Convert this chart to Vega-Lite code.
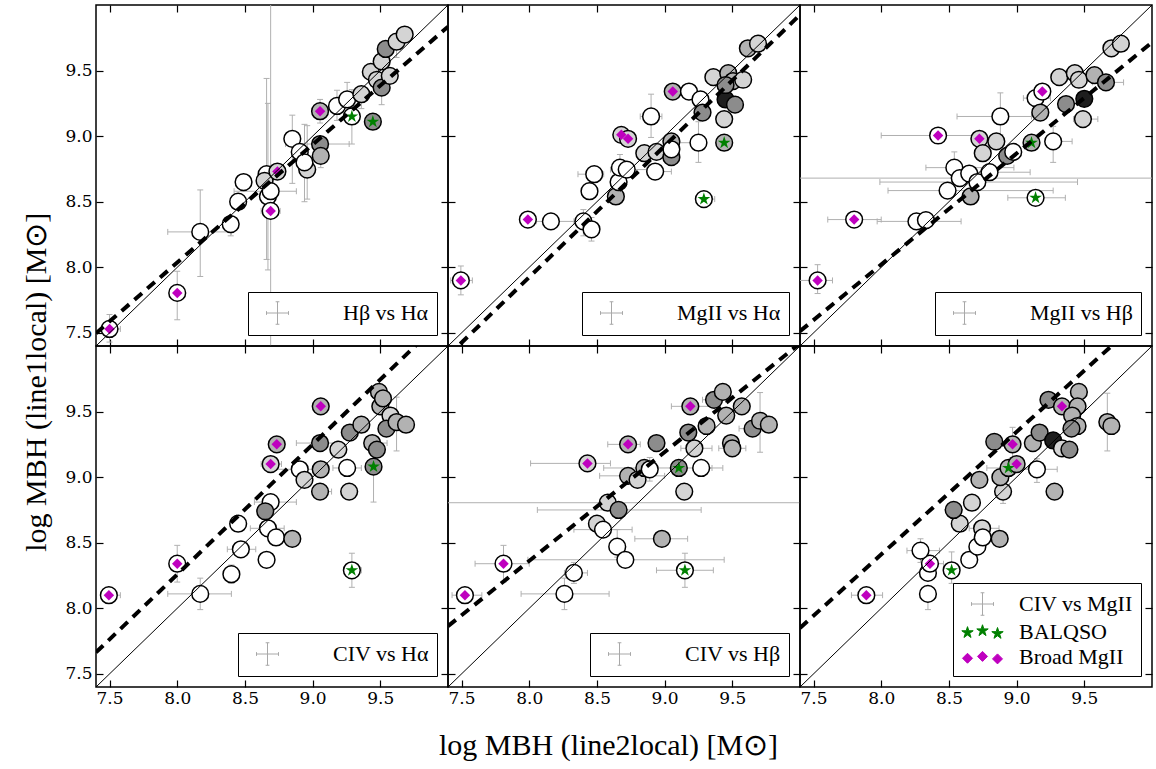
{
"$schema":"https://vega.github.io/schema/vega-lite/v6.json",
"background":"white",
"padding":{"left":22,"top":3,"right":3,"bottom":5},
"title":{"text":"log MBH (line1local) [M⊙]","orient":"left","anchor":"middle","font":"Liberation Serif","fontSize":30,"fontWeight":"normal","color":"black","offset":12},
"datasets":{
"one":[{"x":7.4,"y":7.4},{"x":10,"y":10}],
"fit":[{"p":1,"x":7.4,"y":7.497},{"p":1,"x":10,"y":9.835},{"p":2,"x":7.4,"y":7.325},{"p":2,"x":10,"y":9.925},{"p":3,"x":7.4,"y":7.513},{"p":3,"x":10,"y":9.715},{"p":4,"x":7.4,"y":7.664},{"p":4,"x":10,"y":10.24},{"p":5,"x":7.4,"y":7.864},{"p":5,"x":10,"y":10.02},{"p":6,"x":7.4,"y":7.85},{"p":6,"x":10,"y":10.28}],
"leg":[{"p":1,"lab":"Hβ vs Hα"},{"p":2,"lab":"MgII vs Hα"},{"p":3,"lab":"MgII vs Hβ"},{"p":4,"lab":"CIV vs Hα"},{"p":5,"lab":"CIV vs Hβ"},{"p":6,"lab":"CIV vs MgII"},{"p":6,"lab":"BALQSO"},{"p":6,"lab":"Broad MgII"}],
"pts":[
{"p":1,"x":7.50,"y":7.53,"s":"w","m":"d","xl":7.45,"xh":7.58,"yl":7.43,"yh":7.64},
{"p":1,"x":8.00,"y":7.805,"s":"w","m":"d","yl":7.60,"yh":7.97},
{"p":1,"x":8.17,"y":8.27,"s":"w","xl":7.93,"xh":8.40,"yl":7.93,"yh":8.59},
{"p":1,"x":8.395,"y":8.33,"s":"w","yl":8.24,"yh":8.36},
{"p":1,"x":8.45,"y":8.50,"s":"w"},
{"p":1,"x":8.49,"y":8.65,"s":"w"},
{"p":1,"x":8.66,"y":8.71,"s":"w","yl":8.06,"yh":9.44},
{"p":1,"x":8.645,"y":8.66,"s":"l"},
{"p":1,"x":8.67,"y":8.54,"s":"w","yl":7.98,"yh":9.25},
{"p":1,"x":8.69,"y":8.58,"s":"w","xl":8.42,"xh":8.88,"yl":7.0,"yh":11.0},
{"p":1,"x":8.69,"y":8.43,"s":"w","m":"d","xl":8.62,"xh":8.76},
{"p":1,"x":8.74,"y":8.73,"s":"l","m":"d"},
{"p":1,"x":8.85,"y":8.98,"s":"w","yl":8.64,"yh":9.16},
{"p":1,"x":8.905,"y":8.88,"s":"w"},
{"p":1,"x":8.96,"y":8.745,"s":"l","yl":8.52,"yh":9.08},
{"p":1,"x":8.94,"y":8.80,"s":"w","yl":8.50,"yh":9.09},
{"p":1,"x":9.055,"y":8.94,"s":"d","xl":8.80,"xh":9.27},
{"p":1,"x":9.06,"y":8.85,"s":"g","yl":8.76,"yh":8.95},
{"p":1,"x":9.055,"y":9.19,"s":"g","m":"d","yl":9.10,"yh":9.28},
{"p":1,"x":9.18,"y":9.23,"s":"w","yl":9.12,"yh":9.35},
{"p":1,"x":9.255,"y":9.28,"s":"w","yl":9.15,"yh":9.41},
{"p":1,"x":9.29,"y":9.15,"s":"w","m":"s","yl":8.94,"yh":9.355},
{"p":1,"x":9.445,"y":9.11,"s":"d","m":"s"},
{"p":1,"x":9.36,"y":9.32,"s":"l","yl":9.21,"yh":9.37},
{"p":1,"x":9.43,"y":9.49,"s":"l"},
{"p":1,"x":9.475,"y":9.43,"s":"l"},
{"p":1,"x":9.51,"y":9.37,"s":"d","yl":9.24,"yh":9.47},
{"p":1,"x":9.57,"y":9.46,"s":"l"},
{"p":1,"x":9.51,"y":9.57,"s":"l"},
{"p":1,"x":9.54,"y":9.665,"s":"d"},
{"p":1,"x":9.62,"y":9.72,"s":"l","yl":9.60,"yh":9.78},
{"p":1,"x":9.68,"y":9.775,"s":"l"},
{"p":2,"x":7.495,"y":7.90,"s":"w","m":"d","xl":7.42,"xh":7.58,"yl":7.79,"yh":8.01},
{"p":2,"x":7.99,"y":8.364,"s":"w","m":"d"},
{"p":2,"x":8.16,"y":8.35,"s":"w","xl":8.05,"xh":8.40},
{"p":2,"x":8.40,"y":8.35,"s":"w","xl":8.33,"xh":8.45,"yl":8.24,"yh":8.44},
{"p":2,"x":8.46,"y":8.29,"s":"w","yl":8.20,"yh":8.38},
{"p":2,"x":8.445,"y":8.58,"s":"w"},
{"p":2,"x":8.64,"y":8.54,"s":"g"},
{"p":2,"x":8.48,"y":8.71,"s":"w","xl":8.36,"xh":8.55},
{"p":2,"x":8.66,"y":8.65,"s":"w"},
{"p":2,"x":8.67,"y":8.76,"s":"w","yl":8.70,"yh":8.86},
{"p":2,"x":8.72,"y":8.745,"s":"w","xl":8.60,"xh":8.87},
{"p":2,"x":8.68,"y":9.01,"s":"l","m":"d"},
{"p":2,"x":8.73,"y":8.98,"s":"l","m":"d"},
{"p":2,"x":8.90,"y":9.15,"s":"w","xl":8.82,"xh":8.98,"yl":8.99,"yh":9.32},
{"p":2,"x":8.85,"y":8.87,"s":"l"},
{"p":2,"x":8.94,"y":8.88,"s":"l"},
{"p":2,"x":8.93,"y":8.73,"s":"w","xl":8.88,"xh":9.05},
{"p":2,"x":9.05,"y":8.84,"s":"d"},
{"p":2,"x":9.05,"y":8.96,"s":"g"},
{"p":2,"x":9.05,"y":8.90,"s":"w"},
{"p":2,"x":9.25,"y":8.95,"s":"w","xl":9.03,"xh":9.26,"yl":8.80,"yh":9.11},
{"p":2,"x":9.44,"y":8.95,"s":"g","m":"s"},
{"p":2,"x":9.29,"y":8.52,"s":"w","m":"s","xl":9.24,"xh":9.37},
{"p":2,"x":9.06,"y":9.34,"s":"g","m":"d"},
{"p":2,"x":9.18,"y":9.34,"s":"w"},
{"p":2,"x":9.265,"y":9.28,"s":"w"},
{"p":2,"x":9.28,"y":9.18,"s":"d"},
{"p":2,"x":9.44,"y":9.13,"s":"l"},
{"p":2,"x":9.45,"y":9.28,"s":"k"},
{"p":2,"x":9.52,"y":9.24,"s":"d"},
{"p":2,"x":9.36,"y":9.45,"s":"l"},
{"p":2,"x":9.47,"y":9.48,"s":"g"},
{"p":2,"x":9.505,"y":9.42,"s":"g"},
{"p":2,"x":9.58,"y":9.43,"s":"l"},
{"p":2,"x":9.45,"y":9.39,"s":"d"},
{"p":2,"x":9.615,"y":9.67,"s":"g"},
{"p":2,"x":9.69,"y":9.705,"s":"l"},
{"p":3,"x":7.53,"y":7.90,"s":"w","m":"d","xl":7.39,"xh":7.64,"yl":7.80,"yh":8.02},
{"p":3,"x":7.80,"y":8.364,"s":"w","m":"d","xl":7.605,"xh":8.0},
{"p":3,"x":8.26,"y":8.35,"s":"w","xl":7.97,"xh":8.59},
{"p":3,"x":8.33,"y":8.36,"s":"w"},
{"p":3,"x":8.49,"y":8.585,"s":"w","xl":8.05,"xh":9.27},
{"p":3,"x":8.66,"y":8.54,"s":"g"},
{"p":3,"x":8.54,"y":8.76,"s":"w","xl":8.33,"xh":8.98,"yl":8.66,"yh":8.88},
{"p":3,"x":8.58,"y":8.68,"s":"w","xl":6.5,"xh":11},
{"p":3,"x":8.65,"y":8.715,"s":"w"},
{"p":3,"x":8.71,"y":8.65,"s":"w","xl":7.99,"xh":9.45},
{"p":3,"x":8.80,"y":8.725,"s":"w","xl":8.55,"xh":9.10},
{"p":3,"x":8.42,"y":9.005,"s":"w","m":"d","xl":8.00,"xh":8.72},
{"p":3,"x":8.725,"y":8.98,"s":"l","m":"d"},
{"p":3,"x":8.75,"y":8.87,"s":"l"},
{"p":3,"x":8.85,"y":8.96,"s":"l"},
{"p":3,"x":8.88,"y":9.15,"s":"w","xl":8.56,"xh":9.11,"yl":9.01,"yh":9.33},
{"p":3,"x":8.93,"y":8.85,"s":"d"},
{"p":3,"x":8.975,"y":8.88,"s":"w"},
{"p":3,"x":9.11,"y":8.95,"s":"g","m":"s"},
{"p":3,"x":9.27,"y":8.96,"s":"w","xl":9.22,"xh":9.41,"yl":8.80,"yh":9.075},
{"p":3,"x":9.14,"y":8.53,"s":"w","m":"s","xl":8.935,"xh":9.36},
{"p":3,"x":9.14,"y":9.29,"s":"w","xl":9.05,"xh":9.25},
{"p":3,"x":9.19,"y":9.34,"s":"w","m":"d"},
{"p":3,"x":9.175,"y":9.18,"s":"g"},
{"p":3,"x":9.365,"y":9.245,"s":"d"},
{"p":3,"x":9.50,"y":9.285,"s":"k"},
{"p":3,"x":9.49,"y":9.13,"s":"l","xl":9.42,"xh":9.60},
{"p":3,"x":9.315,"y":9.45,"s":"l"},
{"p":3,"x":9.43,"y":9.48,"s":"l"},
{"p":3,"x":9.46,"y":9.43,"s":"l"},
{"p":3,"x":9.575,"y":9.465,"s":"g"},
{"p":3,"x":9.66,"y":9.41,"s":"d","xl":9.56,"xh":9.79},
{"p":3,"x":9.70,"y":9.67,"s":"l"},
{"p":3,"x":9.77,"y":9.705,"s":"l"},
{"p":4,"x":7.495,"y":8.10,"s":"w","m":"d","xl":7.45,"xh":7.58},
{"p":4,"x":8.0,"y":8.34,"s":"w","m":"d","yl":8.20,"yh":8.48},
{"p":4,"x":8.17,"y":8.11,"s":"w","xl":7.93,"xh":8.40,"yl":7.99,"yh":8.23},
{"p":4,"x":8.40,"y":8.26,"s":"w","yl":8.19,"yh":8.33},
{"p":4,"x":8.47,"y":8.45,"s":"w","xl":8.37,"xh":8.58},
{"p":4,"x":8.45,"y":8.645,"s":"w"},
{"p":4,"x":8.66,"y":8.37,"s":"w"},
{"p":4,"x":8.67,"y":8.61,"s":"w","xl":8.54,"xh":8.79},
{"p":4,"x":8.73,"y":8.54,"s":"w"},
{"p":4,"x":8.69,"y":8.81,"s":"w","xl":8.57,"xh":8.88},
{"p":4,"x":8.65,"y":8.74,"s":"d"},
{"p":4,"x":8.85,"y":8.53,"s":"g"},
{"p":4,"x":8.69,"y":9.10,"s":"l","m":"d","xl":8.62,"xh":8.77},
{"p":4,"x":8.735,"y":9.25,"s":"g","m":"d"},
{"p":4,"x":9.06,"y":9.54,"s":"g","m":"d"},
{"p":4,"x":8.905,"y":9.06,"s":"w","xl":8.72,"xh":9.00},
{"p":4,"x":8.94,"y":8.98,"s":"l"},
{"p":4,"x":9.055,"y":8.89,"s":"g","xl":9.0,"xh":9.14},
{"p":4,"x":9.06,"y":9.06,"s":"g"},
{"p":4,"x":9.055,"y":9.26,"s":"d","xl":8.88,"xh":9.18},
{"p":4,"x":9.19,"y":9.21,"s":"l"},
{"p":4,"x":9.255,"y":9.07,"s":"w","xl":9.15,"xh":9.36},
{"p":4,"x":9.27,"y":8.89,"s":"l"},
{"p":4,"x":9.29,"y":8.29,"s":"w","m":"s","xl":9.24,"xh":9.36,"yl":8.16,"yh":8.42},
{"p":4,"x":9.45,"y":9.08,"s":"d","m":"s","yl":8.81,"yh":9.30},
{"p":4,"x":9.275,"y":9.34,"s":"d"},
{"p":4,"x":9.36,"y":9.40,"s":"g"},
{"p":4,"x":9.44,"y":9.26,"s":"g","xl":9.40,"xh":9.55},
{"p":4,"x":9.475,"y":9.21,"s":"d"},
{"p":4,"x":9.50,"y":9.54,"s":"g"},
{"p":4,"x":9.49,"y":9.65,"s":"g"},
{"p":4,"x":9.52,"y":9.60,"s":"g"},
{"p":4,"x":9.575,"y":9.47,"s":"l"},
{"p":4,"x":9.545,"y":9.37,"s":"d"},
{"p":4,"x":9.62,"y":9.42,"s":"g","yl":9.20,"yh":9.61},
{"p":4,"x":9.69,"y":9.40,"s":"g"},
{"p":5,"x":7.525,"y":8.10,"s":"w","m":"d","xl":7.43,"xh":7.65},
{"p":5,"x":7.81,"y":8.34,"s":"w","m":"d","xl":7.60,"xh":8.0,"yl":8.20,"yh":8.48},
{"p":5,"x":8.26,"y":8.11,"s":"w","xl":7.94,"xh":8.59,"yl":7.99,"yh":8.23},
{"p":5,"x":8.33,"y":8.27,"s":"w","xl":8.26,"xh":8.43,"yl":8.19,"yh":8.35},
{"p":5,"x":8.65,"y":8.47,"s":"w","yl":8.39,"yh":8.60},
{"p":5,"x":8.71,"y":8.37,"s":"w","xl":7.99,"xh":9.44},
{"p":5,"x":8.50,"y":8.645,"s":"l"},
{"p":5,"x":8.545,"y":8.60,"s":"w","xl":8.33,"xh":8.76},
{"p":5,"x":8.58,"y":8.805,"s":"l","xl":6.5,"xh":11},
{"p":5,"x":8.66,"y":8.75,"s":"d","xl":8.06,"xh":9.27},
{"p":5,"x":8.98,"y":8.53,"s":"g","xl":8.78,"xh":9.17},
{"p":5,"x":8.43,"y":9.105,"s":"l","m":"d","xl":8.01,"xh":8.60},
{"p":5,"x":8.73,"y":9.25,"s":"g","m":"d","xl":8.58,"xh":8.82},
{"p":5,"x":8.94,"y":9.26,"s":"d"},
{"p":5,"x":8.73,"y":9.01,"s":"g","xl":8.52,"xh":9.00},
{"p":5,"x":8.80,"y":8.98,"s":"l"},
{"p":5,"x":8.85,"y":9.07,"s":"g","xl":8.55,"xh":9.35},
{"p":5,"x":8.89,"y":9.06,"s":"w","yl":8.97,"yh":9.15},
{"p":5,"x":9.105,"y":9.07,"s":"d","m":"s"},
{"p":5,"x":9.145,"y":8.89,"s":"l"},
{"p":5,"x":9.15,"y":8.29,"s":"w","m":"s","xl":8.94,"xh":9.36,"yl":8.16,"yh":8.42},
{"p":5,"x":9.27,"y":9.07,"s":"w","xl":9.21,"xh":9.43},
{"p":5,"x":9.22,"y":9.22,"s":"l","xl":9.12,"xh":9.35},
{"p":5,"x":9.175,"y":9.34,"s":"d"},
{"p":5,"x":9.19,"y":9.54,"s":"g","m":"d","xl":9.05,"xh":9.35},
{"p":5,"x":9.31,"y":9.39,"s":"g"},
{"p":5,"x":9.365,"y":9.59,"s":"d","xl":9.28,"xh":9.45},
{"p":5,"x":9.43,"y":9.65,"s":"g"},
{"p":5,"x":9.455,"y":9.47,"s":"g"},
{"p":5,"x":9.57,"y":9.54,"s":"g"},
{"p":5,"x":9.49,"y":9.26,"s":"g"},
{"p":5,"x":9.50,"y":9.22,"s":"g","xl":9.40,"xh":9.60},
{"p":5,"x":9.65,"y":9.37,"s":"d","xl":9.55,"xh":9.76},
{"p":5,"x":9.705,"y":9.43,"s":"g","yl":9.19,"yh":9.645},
{"p":5,"x":9.77,"y":9.40,"s":"g"},
{"p":6,"x":7.89,"y":8.10,"s":"w","m":"d","xl":7.78,"xh":8.01},
{"p":6,"x":8.345,"y":8.11,"s":"w","yl":7.99,"yh":8.16},
{"p":6,"x":8.345,"y":8.27,"s":"w"},
{"p":6,"x":8.36,"y":8.34,"s":"w","m":"d","xl":8.30,"xh":8.46},
{"p":6,"x":8.29,"y":8.44,"s":"w","xl":8.19,"xh":8.43,"yl":8.35,"yh":8.53},
{"p":6,"x":8.52,"y":8.29,"s":"w","m":"s","yl":8.19,"yh":8.43},
{"p":6,"x":8.65,"y":8.37,"s":"w"},
{"p":6,"x":8.71,"y":8.47,"s":"w"},
{"p":6,"x":8.745,"y":8.61,"s":"l","xl":8.65,"xh":8.87},
{"p":6,"x":8.75,"y":8.54,"s":"w"},
{"p":6,"x":8.875,"y":8.53,"s":"g"},
{"p":6,"x":8.58,"y":8.645,"s":"l"},
{"p":6,"x":8.535,"y":8.75,"s":"d"},
{"p":6,"x":8.67,"y":8.805,"s":"l"},
{"p":6,"x":8.725,"y":8.98,"s":"g"},
{"p":6,"x":8.90,"y":8.89,"s":"l","yl":8.80,"yh":8.95},
{"p":6,"x":8.88,"y":9.00,"s":"g"},
{"p":6,"x":8.94,"y":9.07,"s":"g","m":"s","xl":8.78,"xh":9.10},
{"p":6,"x":9.00,"y":9.10,"s":"g","m":"d"},
{"p":6,"x":8.97,"y":9.25,"s":"g","m":"d","yl":9.15,"yh":9.38},
{"p":6,"x":8.835,"y":9.27,"s":"d"},
{"p":6,"x":9.12,"y":9.26,"s":"g"},
{"p":6,"x":9.15,"y":9.06,"s":"w","xl":9.03,"xh":9.30,"yl":8.96,"yh":9.14},
{"p":6,"x":9.28,"y":8.89,"s":"g"},
{"p":6,"x":9.17,"y":9.34,"s":"d"},
{"p":6,"x":9.27,"y":9.28,"s":"k"},
{"p":6,"x":9.335,"y":9.22,"s":"l"},
{"p":6,"x":9.39,"y":9.21,"s":"d"},
{"p":6,"x":9.235,"y":9.59,"s":"d"},
{"p":6,"x":9.335,"y":9.54,"s":"g","m":"d"},
{"p":6,"x":9.46,"y":9.65,"s":"g"},
{"p":6,"x":9.45,"y":9.54,"s":"g"},
{"p":6,"x":9.41,"y":9.47,"s":"g"},
{"p":6,"x":9.45,"y":9.39,"s":"g"},
{"p":6,"x":9.405,"y":9.37,"s":"d"},
{"p":6,"x":9.67,"y":9.42,"s":"g","yl":9.20,"yh":9.64},
{"p":6,"x":9.70,"y":9.39,"s":"g"}
]},
"columns":3,
"spacing":0,
"bounds":"flush",
"resolve":{"scale":{"fill":"independent","stroke":"independent","shape":"independent"},"legend":{"fill":"independent","stroke":"independent","shape":"independent"}},
"concat":[
{"width":352,"height":341,"resolve":{"axis":{"x":"independent","y":"independent"}},"layer":[
{"data":{"name":"pts"},"transform":[{"filter":"datum.p==1 && isValid(datum.xl)"}],"mark":{"type":"rule","color":"#b0b0b0","strokeWidth":1,"clip":true},"encoding":{"x":{"field":"xl","type":"quantitative","scale":{"domain":[7.4,10],"nice":false,"zero":false},"axis":null},"x2":{"field":"xh"},"y":{"field":"y","type":"quantitative","scale":{"domain":[7.4,10],"nice":false,"zero":false},"axis":null}}},
{"data":{"name":"pts"},"transform":[{"filter":"datum.p==1 && isValid(datum.yl)"}],"mark":{"type":"rule","color":"#b0b0b0","strokeWidth":1,"clip":true},"encoding":{"x":{"field":"x","type":"quantitative","axis":null},"y":{"field":"yl","type":"quantitative","axis":null},"y2":{"field":"yh"}}},
{"data":{"name":"pts"},"transform":[{"filter":"datum.p==1 && isValid(datum.xl)"},{"fold":["xl","xh"],"as":["k","v"]}],"mark":{"type":"point","shape":"M0,-1V1","size":36,"filled":false,"color":"#b0b0b0","strokeWidth":1,"opacity":1,"clip":true},"encoding":{"x":{"field":"v","type":"quantitative","axis":null},"y":{"field":"y","type":"quantitative","axis":null}}},
{"data":{"name":"pts"},"transform":[{"filter":"datum.p==1 && isValid(datum.yl)"},{"fold":["yl","yh"],"as":["k","v"]}],"mark":{"type":"point","shape":"M-1,0H1","size":36,"filled":false,"color":"#b0b0b0","strokeWidth":1,"opacity":1,"clip":true},"encoding":{"x":{"field":"x","type":"quantitative","axis":null},"y":{"field":"v","type":"quantitative","axis":null}}},
{"data":{"name":"pts"},"transform":[{"filter":"datum.p==1"}],"mark":{"type":"point","shape":"circle","filled":true,"size":280,"stroke":"black","strokeWidth":1.5,"opacity":1},"encoding":{"x":{"field":"x","type":"quantitative","axis":null},"y":{"field":"y","type":"quantitative","axis":null},"color":{"field":"s","type":"nominal","scale":{"domain":["w","l","g","d","k"],"range":["#ffffff","#d4d4d4","#b2b2b2","#8c8c8c","#1e1e1e"]},"legend":null}}},
{"data":{"name":"pts"},"transform":[{"filter":"datum.p==1 && datum.m=='s'"}],"mark":{"type":"point","shape":"M0,-1L0.225,-0.309L0.951,-0.309L0.363,0.118L0.588,0.809L0,0.382L-0.588,0.809L-0.363,0.118L-0.951,-0.309L-0.225,-0.309Z","filled":true,"size":180,"color":"#008000","opacity":1},"encoding":{"x":{"field":"x","type":"quantitative","axis":null},"y":{"field":"y","type":"quantitative","axis":null}}},
{"data":{"name":"pts"},"transform":[{"filter":"datum.p==1 && datum.m=='d'"}],"mark":{"type":"point","shape":"diamond","filled":true,"size":110,"color":"#bf00bf","opacity":1},"encoding":{"x":{"field":"x","type":"quantitative","axis":null},"y":{"field":"y","type":"quantitative","axis":null}}},
{"data":{"name":"one"},"mark":{"type":"line","color":"black","strokeWidth":1,"clip":true},"encoding":{"x":{"field":"x","type":"quantitative","axis":{"orient":"bottom","values":[7.5,8,8.5,9,9.5],"format":".1f","labels":false,"title":null}},"y":{"field":"y","type":"quantitative","axis":{"orient":"left","values":[7.5,8,8.5,9,9.5],"format":".1f","labels":true,"title":null}}}},
{"data":{"name":"fit"},"transform":[{"filter":"datum.p==1"}],"mark":{"type":"line","color":"black","strokeWidth":4,"strokeDash":[10,7],"clip":true},"encoding":{"x":{"field":"x","type":"quantitative","axis":{"orient":"top","values":[7.5,8,8.5,9,9.5],"labels":false,"title":null}},"y":{"field":"y","type":"quantitative","axis":{"orient":"right","values":[7.5,8,8.5,9,9.5],"labels":false,"title":null}}}},
{"data":{"name":"leg"},"transform":[{"filter":"datum.p==1"}],"mark":{"type":"point","filled":true,"opacity":1,"strokeWidth":1},"encoding":{"x":{"field":"x","type":"quantitative","axis":null},"y":{"field":"y","type":"quantitative","axis":null},
"fill":{"field":"lab","type":"nominal","scale":{"domain":["Hβ vs Hα"],"range":["#a8a8a8"]},"legend":{"title":null,"orient":"bottom-right","offset":11,"padding":8,"labelOffset":61}},
"stroke":{"field":"lab","type":"nominal","scale":{"domain":["Hβ vs Hα"],"range":["#a8a8a8"]},"legend":{"title":null,"orient":"bottom-right","offset":11,"padding":8,"labelOffset":61}},
"shape":{"field":"lab","type":"nominal","scale":{"domain":["Hβ vs Hα"],"range":["M-0.2,0H1.56M0.68,-0.9V0.9M-0.2,-0.15V0.15M1.56,-0.15V0.15M0.53,-0.9H0.83M0.53,0.9H0.83"]},"legend":{"title":null,"orient":"bottom-right","offset":11,"padding":8,"labelOffset":61}}}}
]},
{"width":352,"height":341,"resolve":{"axis":{"x":"independent","y":"independent"}},"layer":[
{"data":{"name":"pts"},"transform":[{"filter":"datum.p==2 && isValid(datum.xl)"}],"mark":{"type":"rule","color":"#b0b0b0","strokeWidth":1,"clip":true},"encoding":{"x":{"field":"xl","type":"quantitative","scale":{"domain":[7.4,10],"nice":false,"zero":false},"axis":null},"x2":{"field":"xh"},"y":{"field":"y","type":"quantitative","scale":{"domain":[7.4,10],"nice":false,"zero":false},"axis":null}}},
{"data":{"name":"pts"},"transform":[{"filter":"datum.p==2 && isValid(datum.yl)"}],"mark":{"type":"rule","color":"#b0b0b0","strokeWidth":1,"clip":true},"encoding":{"x":{"field":"x","type":"quantitative","axis":null},"y":{"field":"yl","type":"quantitative","axis":null},"y2":{"field":"yh"}}},
{"data":{"name":"pts"},"transform":[{"filter":"datum.p==2 && isValid(datum.xl)"},{"fold":["xl","xh"],"as":["k","v"]}],"mark":{"type":"point","shape":"M0,-1V1","size":36,"filled":false,"color":"#b0b0b0","strokeWidth":1,"opacity":1,"clip":true},"encoding":{"x":{"field":"v","type":"quantitative","axis":null},"y":{"field":"y","type":"quantitative","axis":null}}},
{"data":{"name":"pts"},"transform":[{"filter":"datum.p==2 && isValid(datum.yl)"},{"fold":["yl","yh"],"as":["k","v"]}],"mark":{"type":"point","shape":"M-1,0H1","size":36,"filled":false,"color":"#b0b0b0","strokeWidth":1,"opacity":1,"clip":true},"encoding":{"x":{"field":"x","type":"quantitative","axis":null},"y":{"field":"v","type":"quantitative","axis":null}}},
{"data":{"name":"pts"},"transform":[{"filter":"datum.p==2"}],"mark":{"type":"point","shape":"circle","filled":true,"size":280,"stroke":"black","strokeWidth":1.5,"opacity":1},"encoding":{"x":{"field":"x","type":"quantitative","axis":null},"y":{"field":"y","type":"quantitative","axis":null},"color":{"field":"s","type":"nominal","scale":{"domain":["w","l","g","d","k"],"range":["#ffffff","#d4d4d4","#b2b2b2","#8c8c8c","#1e1e1e"]},"legend":null}}},
{"data":{"name":"pts"},"transform":[{"filter":"datum.p==2 && datum.m=='s'"}],"mark":{"type":"point","shape":"M0,-1L0.225,-0.309L0.951,-0.309L0.363,0.118L0.588,0.809L0,0.382L-0.588,0.809L-0.363,0.118L-0.951,-0.309L-0.225,-0.309Z","filled":true,"size":180,"color":"#008000","opacity":1},"encoding":{"x":{"field":"x","type":"quantitative","axis":null},"y":{"field":"y","type":"quantitative","axis":null}}},
{"data":{"name":"pts"},"transform":[{"filter":"datum.p==2 && datum.m=='d'"}],"mark":{"type":"point","shape":"diamond","filled":true,"size":110,"color":"#bf00bf","opacity":1},"encoding":{"x":{"field":"x","type":"quantitative","axis":null},"y":{"field":"y","type":"quantitative","axis":null}}},
{"data":{"name":"one"},"mark":{"type":"line","color":"black","strokeWidth":1,"clip":true},"encoding":{"x":{"field":"x","type":"quantitative","axis":{"orient":"bottom","values":[7.5,8,8.5,9,9.5],"format":".1f","labels":false,"title":null}},"y":{"field":"y","type":"quantitative","axis":{"orient":"left","values":[7.5,8,8.5,9,9.5],"format":".1f","labels":false,"title":null}}}},
{"data":{"name":"fit"},"transform":[{"filter":"datum.p==2"}],"mark":{"type":"line","color":"black","strokeWidth":4,"strokeDash":[10,7],"clip":true},"encoding":{"x":{"field":"x","type":"quantitative","axis":{"orient":"top","values":[7.5,8,8.5,9,9.5],"labels":false,"title":null}},"y":{"field":"y","type":"quantitative","axis":{"orient":"right","values":[7.5,8,8.5,9,9.5],"labels":false,"title":null}}}},
{"data":{"name":"leg"},"transform":[{"filter":"datum.p==2"}],"mark":{"type":"point","filled":true,"opacity":1,"strokeWidth":1},"encoding":{"x":{"field":"x","type":"quantitative","axis":null},"y":{"field":"y","type":"quantitative","axis":null},
"fill":{"field":"lab","type":"nominal","scale":{"domain":["MgII vs Hα"],"range":["#a8a8a8"]},"legend":{"title":null,"orient":"bottom-right","offset":11,"padding":8,"labelOffset":61}},
"stroke":{"field":"lab","type":"nominal","scale":{"domain":["MgII vs Hα"],"range":["#a8a8a8"]},"legend":{"title":null,"orient":"bottom-right","offset":11,"padding":8,"labelOffset":61}},
"shape":{"field":"lab","type":"nominal","scale":{"domain":["MgII vs Hα"],"range":["M-0.2,0H1.56M0.68,-0.9V0.9M-0.2,-0.15V0.15M1.56,-0.15V0.15M0.53,-0.9H0.83M0.53,0.9H0.83"]},"legend":{"title":null,"orient":"bottom-right","offset":11,"padding":8,"labelOffset":61}}}}
]},
{"width":352,"height":341,"resolve":{"axis":{"x":"independent","y":"independent"}},"layer":[
{"data":{"name":"pts"},"transform":[{"filter":"datum.p==3 && isValid(datum.xl)"}],"mark":{"type":"rule","color":"#b0b0b0","strokeWidth":1,"clip":true},"encoding":{"x":{"field":"xl","type":"quantitative","scale":{"domain":[7.4,10],"nice":false,"zero":false},"axis":null},"x2":{"field":"xh"},"y":{"field":"y","type":"quantitative","scale":{"domain":[7.4,10],"nice":false,"zero":false},"axis":null}}},
{"data":{"name":"pts"},"transform":[{"filter":"datum.p==3 && isValid(datum.yl)"}],"mark":{"type":"rule","color":"#b0b0b0","strokeWidth":1,"clip":true},"encoding":{"x":{"field":"x","type":"quantitative","axis":null},"y":{"field":"yl","type":"quantitative","axis":null},"y2":{"field":"yh"}}},
{"data":{"name":"pts"},"transform":[{"filter":"datum.p==3 && isValid(datum.xl)"},{"fold":["xl","xh"],"as":["k","v"]}],"mark":{"type":"point","shape":"M0,-1V1","size":36,"filled":false,"color":"#b0b0b0","strokeWidth":1,"opacity":1,"clip":true},"encoding":{"x":{"field":"v","type":"quantitative","axis":null},"y":{"field":"y","type":"quantitative","axis":null}}},
{"data":{"name":"pts"},"transform":[{"filter":"datum.p==3 && isValid(datum.yl)"},{"fold":["yl","yh"],"as":["k","v"]}],"mark":{"type":"point","shape":"M-1,0H1","size":36,"filled":false,"color":"#b0b0b0","strokeWidth":1,"opacity":1,"clip":true},"encoding":{"x":{"field":"x","type":"quantitative","axis":null},"y":{"field":"v","type":"quantitative","axis":null}}},
{"data":{"name":"pts"},"transform":[{"filter":"datum.p==3"}],"mark":{"type":"point","shape":"circle","filled":true,"size":280,"stroke":"black","strokeWidth":1.5,"opacity":1},"encoding":{"x":{"field":"x","type":"quantitative","axis":null},"y":{"field":"y","type":"quantitative","axis":null},"color":{"field":"s","type":"nominal","scale":{"domain":["w","l","g","d","k"],"range":["#ffffff","#d4d4d4","#b2b2b2","#8c8c8c","#1e1e1e"]},"legend":null}}},
{"data":{"name":"pts"},"transform":[{"filter":"datum.p==3 && datum.m=='s'"}],"mark":{"type":"point","shape":"M0,-1L0.225,-0.309L0.951,-0.309L0.363,0.118L0.588,0.809L0,0.382L-0.588,0.809L-0.363,0.118L-0.951,-0.309L-0.225,-0.309Z","filled":true,"size":180,"color":"#008000","opacity":1},"encoding":{"x":{"field":"x","type":"quantitative","axis":null},"y":{"field":"y","type":"quantitative","axis":null}}},
{"data":{"name":"pts"},"transform":[{"filter":"datum.p==3 && datum.m=='d'"}],"mark":{"type":"point","shape":"diamond","filled":true,"size":110,"color":"#bf00bf","opacity":1},"encoding":{"x":{"field":"x","type":"quantitative","axis":null},"y":{"field":"y","type":"quantitative","axis":null}}},
{"data":{"name":"one"},"mark":{"type":"line","color":"black","strokeWidth":1,"clip":true},"encoding":{"x":{"field":"x","type":"quantitative","axis":{"orient":"bottom","values":[7.5,8,8.5,9,9.5],"format":".1f","labels":false,"title":null}},"y":{"field":"y","type":"quantitative","axis":{"orient":"left","values":[7.5,8,8.5,9,9.5],"format":".1f","labels":false,"title":null}}}},
{"data":{"name":"fit"},"transform":[{"filter":"datum.p==3"}],"mark":{"type":"line","color":"black","strokeWidth":4,"strokeDash":[10,7],"clip":true},"encoding":{"x":{"field":"x","type":"quantitative","axis":{"orient":"top","values":[7.5,8,8.5,9,9.5],"labels":false,"title":null}},"y":{"field":"y","type":"quantitative","axis":{"orient":"right","values":[7.5,8,8.5,9,9.5],"labels":false,"title":null}}}},
{"data":{"name":"leg"},"transform":[{"filter":"datum.p==3"}],"mark":{"type":"point","filled":true,"opacity":1,"strokeWidth":1},"encoding":{"x":{"field":"x","type":"quantitative","axis":null},"y":{"field":"y","type":"quantitative","axis":null},
"fill":{"field":"lab","type":"nominal","scale":{"domain":["MgII vs Hβ"],"range":["#a8a8a8"]},"legend":{"title":null,"orient":"bottom-right","offset":11,"padding":8,"labelOffset":61}},
"stroke":{"field":"lab","type":"nominal","scale":{"domain":["MgII vs Hβ"],"range":["#a8a8a8"]},"legend":{"title":null,"orient":"bottom-right","offset":11,"padding":8,"labelOffset":61}},
"shape":{"field":"lab","type":"nominal","scale":{"domain":["MgII vs Hβ"],"range":["M-0.2,0H1.56M0.68,-0.9V0.9M-0.2,-0.15V0.15M1.56,-0.15V0.15M0.53,-0.9H0.83M0.53,0.9H0.83"]},"legend":{"title":null,"orient":"bottom-right","offset":11,"padding":8,"labelOffset":61}}}}
]},
{"width":352,"height":341,"resolve":{"axis":{"x":"independent","y":"independent"}},"layer":[
{"data":{"name":"pts"},"transform":[{"filter":"datum.p==4 && isValid(datum.xl)"}],"mark":{"type":"rule","color":"#b0b0b0","strokeWidth":1,"clip":true},"encoding":{"x":{"field":"xl","type":"quantitative","scale":{"domain":[7.4,10],"nice":false,"zero":false},"axis":null},"x2":{"field":"xh"},"y":{"field":"y","type":"quantitative","scale":{"domain":[7.4,10],"nice":false,"zero":false},"axis":null}}},
{"data":{"name":"pts"},"transform":[{"filter":"datum.p==4 && isValid(datum.yl)"}],"mark":{"type":"rule","color":"#b0b0b0","strokeWidth":1,"clip":true},"encoding":{"x":{"field":"x","type":"quantitative","axis":null},"y":{"field":"yl","type":"quantitative","axis":null},"y2":{"field":"yh"}}},
{"data":{"name":"pts"},"transform":[{"filter":"datum.p==4 && isValid(datum.xl)"},{"fold":["xl","xh"],"as":["k","v"]}],"mark":{"type":"point","shape":"M0,-1V1","size":36,"filled":false,"color":"#b0b0b0","strokeWidth":1,"opacity":1,"clip":true},"encoding":{"x":{"field":"v","type":"quantitative","axis":null},"y":{"field":"y","type":"quantitative","axis":null}}},
{"data":{"name":"pts"},"transform":[{"filter":"datum.p==4 && isValid(datum.yl)"},{"fold":["yl","yh"],"as":["k","v"]}],"mark":{"type":"point","shape":"M-1,0H1","size":36,"filled":false,"color":"#b0b0b0","strokeWidth":1,"opacity":1,"clip":true},"encoding":{"x":{"field":"x","type":"quantitative","axis":null},"y":{"field":"v","type":"quantitative","axis":null}}},
{"data":{"name":"pts"},"transform":[{"filter":"datum.p==4"}],"mark":{"type":"point","shape":"circle","filled":true,"size":280,"stroke":"black","strokeWidth":1.5,"opacity":1},"encoding":{"x":{"field":"x","type":"quantitative","axis":null},"y":{"field":"y","type":"quantitative","axis":null},"color":{"field":"s","type":"nominal","scale":{"domain":["w","l","g","d","k"],"range":["#ffffff","#d4d4d4","#b2b2b2","#8c8c8c","#1e1e1e"]},"legend":null}}},
{"data":{"name":"pts"},"transform":[{"filter":"datum.p==4 && datum.m=='s'"}],"mark":{"type":"point","shape":"M0,-1L0.225,-0.309L0.951,-0.309L0.363,0.118L0.588,0.809L0,0.382L-0.588,0.809L-0.363,0.118L-0.951,-0.309L-0.225,-0.309Z","filled":true,"size":180,"color":"#008000","opacity":1},"encoding":{"x":{"field":"x","type":"quantitative","axis":null},"y":{"field":"y","type":"quantitative","axis":null}}},
{"data":{"name":"pts"},"transform":[{"filter":"datum.p==4 && datum.m=='d'"}],"mark":{"type":"point","shape":"diamond","filled":true,"size":110,"color":"#bf00bf","opacity":1},"encoding":{"x":{"field":"x","type":"quantitative","axis":null},"y":{"field":"y","type":"quantitative","axis":null}}},
{"data":{"name":"one"},"mark":{"type":"line","color":"black","strokeWidth":1,"clip":true},"encoding":{"x":{"field":"x","type":"quantitative","axis":{"orient":"bottom","values":[7.5,8,8.5,9,9.5],"format":".1f","labels":true,"title":null}},"y":{"field":"y","type":"quantitative","axis":{"orient":"left","values":[7.5,8,8.5,9,9.5],"format":".1f","labels":true,"title":null}}}},
{"data":{"name":"fit"},"transform":[{"filter":"datum.p==4"}],"mark":{"type":"line","color":"black","strokeWidth":4,"strokeDash":[10,7],"clip":true},"encoding":{"x":{"field":"x","type":"quantitative","axis":{"orient":"top","values":[7.5,8,8.5,9,9.5],"labels":false,"title":null}},"y":{"field":"y","type":"quantitative","axis":{"orient":"right","values":[7.5,8,8.5,9,9.5],"labels":false,"title":null}}}},
{"data":{"name":"leg"},"transform":[{"filter":"datum.p==4"}],"mark":{"type":"point","filled":true,"opacity":1,"strokeWidth":1},"encoding":{"x":{"field":"x","type":"quantitative","axis":null},"y":{"field":"y","type":"quantitative","axis":null},
"fill":{"field":"lab","type":"nominal","scale":{"domain":["CIV vs Hα"],"range":["#a8a8a8"]},"legend":{"title":null,"orient":"bottom-right","offset":11,"padding":8,"labelOffset":61}},
"stroke":{"field":"lab","type":"nominal","scale":{"domain":["CIV vs Hα"],"range":["#a8a8a8"]},"legend":{"title":null,"orient":"bottom-right","offset":11,"padding":8,"labelOffset":61}},
"shape":{"field":"lab","type":"nominal","scale":{"domain":["CIV vs Hα"],"range":["M-0.2,0H1.56M0.68,-0.9V0.9M-0.2,-0.15V0.15M1.56,-0.15V0.15M0.53,-0.9H0.83M0.53,0.9H0.83"]},"legend":{"title":null,"orient":"bottom-right","offset":11,"padding":8,"labelOffset":61}}}}
]},
{"width":352,"height":341,"resolve":{"axis":{"x":"independent","y":"independent"}},"layer":[
{"data":{"name":"pts"},"transform":[{"filter":"datum.p==5 && isValid(datum.xl)"}],"mark":{"type":"rule","color":"#b0b0b0","strokeWidth":1,"clip":true},"encoding":{"x":{"field":"xl","type":"quantitative","scale":{"domain":[7.4,10],"nice":false,"zero":false},"axis":null},"x2":{"field":"xh"},"y":{"field":"y","type":"quantitative","scale":{"domain":[7.4,10],"nice":false,"zero":false},"axis":null}}},
{"data":{"name":"pts"},"transform":[{"filter":"datum.p==5 && isValid(datum.yl)"}],"mark":{"type":"rule","color":"#b0b0b0","strokeWidth":1,"clip":true},"encoding":{"x":{"field":"x","type":"quantitative","axis":null},"y":{"field":"yl","type":"quantitative","axis":null},"y2":{"field":"yh"}}},
{"data":{"name":"pts"},"transform":[{"filter":"datum.p==5 && isValid(datum.xl)"},{"fold":["xl","xh"],"as":["k","v"]}],"mark":{"type":"point","shape":"M0,-1V1","size":36,"filled":false,"color":"#b0b0b0","strokeWidth":1,"opacity":1,"clip":true},"encoding":{"x":{"field":"v","type":"quantitative","axis":null},"y":{"field":"y","type":"quantitative","axis":null}}},
{"data":{"name":"pts"},"transform":[{"filter":"datum.p==5 && isValid(datum.yl)"},{"fold":["yl","yh"],"as":["k","v"]}],"mark":{"type":"point","shape":"M-1,0H1","size":36,"filled":false,"color":"#b0b0b0","strokeWidth":1,"opacity":1,"clip":true},"encoding":{"x":{"field":"x","type":"quantitative","axis":null},"y":{"field":"v","type":"quantitative","axis":null}}},
{"data":{"name":"pts"},"transform":[{"filter":"datum.p==5"}],"mark":{"type":"point","shape":"circle","filled":true,"size":280,"stroke":"black","strokeWidth":1.5,"opacity":1},"encoding":{"x":{"field":"x","type":"quantitative","axis":null},"y":{"field":"y","type":"quantitative","axis":null},"color":{"field":"s","type":"nominal","scale":{"domain":["w","l","g","d","k"],"range":["#ffffff","#d4d4d4","#b2b2b2","#8c8c8c","#1e1e1e"]},"legend":null}}},
{"data":{"name":"pts"},"transform":[{"filter":"datum.p==5 && datum.m=='s'"}],"mark":{"type":"point","shape":"M0,-1L0.225,-0.309L0.951,-0.309L0.363,0.118L0.588,0.809L0,0.382L-0.588,0.809L-0.363,0.118L-0.951,-0.309L-0.225,-0.309Z","filled":true,"size":180,"color":"#008000","opacity":1},"encoding":{"x":{"field":"x","type":"quantitative","axis":null},"y":{"field":"y","type":"quantitative","axis":null}}},
{"data":{"name":"pts"},"transform":[{"filter":"datum.p==5 && datum.m=='d'"}],"mark":{"type":"point","shape":"diamond","filled":true,"size":110,"color":"#bf00bf","opacity":1},"encoding":{"x":{"field":"x","type":"quantitative","axis":null},"y":{"field":"y","type":"quantitative","axis":null}}},
{"data":{"name":"one"},"mark":{"type":"line","color":"black","strokeWidth":1,"clip":true},"encoding":{"x":{"field":"x","type":"quantitative","axis":{"orient":"bottom","values":[7.5,8,8.5,9,9.5],"format":".1f","labels":true,"title":"log MBH (line2local) [M⊙]","titleX":160}},"y":{"field":"y","type":"quantitative","axis":{"orient":"left","values":[7.5,8,8.5,9,9.5],"format":".1f","labels":false,"title":null}}}},
{"data":{"name":"fit"},"transform":[{"filter":"datum.p==5"}],"mark":{"type":"line","color":"black","strokeWidth":4,"strokeDash":[10,7],"clip":true},"encoding":{"x":{"field":"x","type":"quantitative","axis":{"orient":"top","values":[7.5,8,8.5,9,9.5],"labels":false,"title":null}},"y":{"field":"y","type":"quantitative","axis":{"orient":"right","values":[7.5,8,8.5,9,9.5],"labels":false,"title":null}}}},
{"data":{"name":"leg"},"transform":[{"filter":"datum.p==5"}],"mark":{"type":"point","filled":true,"opacity":1,"strokeWidth":1},"encoding":{"x":{"field":"x","type":"quantitative","axis":null},"y":{"field":"y","type":"quantitative","axis":null},
"fill":{"field":"lab","type":"nominal","scale":{"domain":["CIV vs Hβ"],"range":["#a8a8a8"]},"legend":{"title":null,"orient":"bottom-right","offset":11,"padding":8,"labelOffset":61}},
"stroke":{"field":"lab","type":"nominal","scale":{"domain":["CIV vs Hβ"],"range":["#a8a8a8"]},"legend":{"title":null,"orient":"bottom-right","offset":11,"padding":8,"labelOffset":61}},
"shape":{"field":"lab","type":"nominal","scale":{"domain":["CIV vs Hβ"],"range":["M-0.2,0H1.56M0.68,-0.9V0.9M-0.2,-0.15V0.15M1.56,-0.15V0.15M0.53,-0.9H0.83M0.53,0.9H0.83"]},"legend":{"title":null,"orient":"bottom-right","offset":11,"padding":8,"labelOffset":61}}}}
]},
{"width":352,"height":341,"resolve":{"axis":{"x":"independent","y":"independent"}},"layer":[
{"data":{"name":"pts"},"transform":[{"filter":"datum.p==6 && isValid(datum.xl)"}],"mark":{"type":"rule","color":"#b0b0b0","strokeWidth":1,"clip":true},"encoding":{"x":{"field":"xl","type":"quantitative","scale":{"domain":[7.4,10],"nice":false,"zero":false},"axis":null},"x2":{"field":"xh"},"y":{"field":"y","type":"quantitative","scale":{"domain":[7.4,10],"nice":false,"zero":false},"axis":null}}},
{"data":{"name":"pts"},"transform":[{"filter":"datum.p==6 && isValid(datum.yl)"}],"mark":{"type":"rule","color":"#b0b0b0","strokeWidth":1,"clip":true},"encoding":{"x":{"field":"x","type":"quantitative","axis":null},"y":{"field":"yl","type":"quantitative","axis":null},"y2":{"field":"yh"}}},
{"data":{"name":"pts"},"transform":[{"filter":"datum.p==6 && isValid(datum.xl)"},{"fold":["xl","xh"],"as":["k","v"]}],"mark":{"type":"point","shape":"M0,-1V1","size":36,"filled":false,"color":"#b0b0b0","strokeWidth":1,"opacity":1,"clip":true},"encoding":{"x":{"field":"v","type":"quantitative","axis":null},"y":{"field":"y","type":"quantitative","axis":null}}},
{"data":{"name":"pts"},"transform":[{"filter":"datum.p==6 && isValid(datum.yl)"},{"fold":["yl","yh"],"as":["k","v"]}],"mark":{"type":"point","shape":"M-1,0H1","size":36,"filled":false,"color":"#b0b0b0","strokeWidth":1,"opacity":1,"clip":true},"encoding":{"x":{"field":"x","type":"quantitative","axis":null},"y":{"field":"v","type":"quantitative","axis":null}}},
{"data":{"name":"pts"},"transform":[{"filter":"datum.p==6"}],"mark":{"type":"point","shape":"circle","filled":true,"size":280,"stroke":"black","strokeWidth":1.5,"opacity":1},"encoding":{"x":{"field":"x","type":"quantitative","axis":null},"y":{"field":"y","type":"quantitative","axis":null},"color":{"field":"s","type":"nominal","scale":{"domain":["w","l","g","d","k"],"range":["#ffffff","#d4d4d4","#b2b2b2","#8c8c8c","#1e1e1e"]},"legend":null}}},
{"data":{"name":"pts"},"transform":[{"filter":"datum.p==6 && datum.m=='s'"}],"mark":{"type":"point","shape":"M0,-1L0.225,-0.309L0.951,-0.309L0.363,0.118L0.588,0.809L0,0.382L-0.588,0.809L-0.363,0.118L-0.951,-0.309L-0.225,-0.309Z","filled":true,"size":180,"color":"#008000","opacity":1},"encoding":{"x":{"field":"x","type":"quantitative","axis":null},"y":{"field":"y","type":"quantitative","axis":null}}},
{"data":{"name":"pts"},"transform":[{"filter":"datum.p==6 && datum.m=='d'"}],"mark":{"type":"point","shape":"diamond","filled":true,"size":110,"color":"#bf00bf","opacity":1},"encoding":{"x":{"field":"x","type":"quantitative","axis":null},"y":{"field":"y","type":"quantitative","axis":null}}},
{"data":{"name":"one"},"mark":{"type":"line","color":"black","strokeWidth":1,"clip":true},"encoding":{"x":{"field":"x","type":"quantitative","axis":{"orient":"bottom","values":[7.5,8,8.5,9,9.5],"format":".1f","labels":true,"title":null}},"y":{"field":"y","type":"quantitative","axis":{"orient":"left","values":[7.5,8,8.5,9,9.5],"format":".1f","labels":false,"title":null}}}},
{"data":{"name":"fit"},"transform":[{"filter":"datum.p==6"}],"mark":{"type":"line","color":"black","strokeWidth":4,"strokeDash":[10,7],"clip":true},"encoding":{"x":{"field":"x","type":"quantitative","axis":{"orient":"top","values":[7.5,8,8.5,9,9.5],"labels":false,"title":null}},"y":{"field":"y","type":"quantitative","axis":{"orient":"right","values":[7.5,8,8.5,9,9.5],"labels":false,"title":null}}}},
{"data":{"name":"leg"},"transform":[{"filter":"datum.p==6"}],"mark":{"type":"point","filled":true,"opacity":1,"strokeWidth":1},"encoding":{"x":{"field":"x","type":"quantitative","axis":null},"y":{"field":"y","type":"quantitative","axis":null},
"fill":{"field":"lab","type":"nominal","scale":{"domain":["CIV vs MgII","BALQSO","Broad MgII"],"range":["#a8a8a8","#008000","#bf00bf"]},"legend":{"title":null,"orient":"bottom-right","offset":11,"padding":8,"labelOffset":32}},
"stroke":{"field":"lab","type":"nominal","scale":{"domain":["CIV vs MgII","BALQSO","Broad MgII"],"range":["#a8a8a8","#008000","#bf00bf"]},"legend":{"title":null,"orient":"bottom-right","offset":11,"padding":8,"labelOffset":32}},
"shape":{"field":"lab","type":"nominal","scale":{"domain":["CIV vs MgII","BALQSO","Broad MgII"],"range":["M-0.2,0H1.56M0.68,-0.9V0.9M-0.2,-0.15V0.15M1.56,-0.15V0.15M0.53,-0.9H0.83M0.53,0.9H0.83","M-0.52,-0.43L-0.412,-0.098L-0.064,-0.098L-0.346,0.107L-0.238,0.438L-0.52,0.233L-0.802,0.438L-0.694,0.107L-0.976,-0.098L-0.628,-0.098ZM0.68,-0.58L0.788,-0.248L1.136,-0.248L0.854,-0.043L0.962,0.288L0.68,0.083L0.398,0.288L0.506,-0.043L0.224,-0.248L0.572,-0.248ZM1.88,-0.36L1.988,-0.028L2.336,-0.028L2.054,0.177L2.162,0.508L1.88,0.303L1.598,0.508L1.706,0.177L1.424,-0.028L1.772,-0.028Z","M-0.52,-0.3L-0.12,0.1L-0.52,0.5L-0.92,0.1ZM0.68,-0.45L1.08,-0.05L0.68,0.35L0.28,-0.05ZM1.88,-0.25L2.28,0.15L1.88,0.55L1.48,0.15Z"]},"legend":{"title":null,"orient":"bottom-right","offset":11,"padding":8,"labelOffset":32}}}}
]}
],
"config":{
"view":{"stroke":"black","strokeWidth":1.5},
"axis":{"domain":false,"grid":false,"ticks":true,"tickSize":-7,"tickColor":"black","tickWidth":1.2,"labelFont":"DejaVu Serif","labelFontSize":17,"labelColor":"black","titleFont":"Liberation Serif","titleFontSize":30,"titleFontWeight":"normal","titleColor":"black","titlePadding":24},
"axisX":{"labelPadding":10},
"axisY":{"labelPadding":11},
"legend":{"strokeColor":"black","fillColor":"white","symbolSize":625,"symbolStrokeWidth":1,"symbolOpacity":1,"labelFont":"Liberation Serif","labelFontSize":22,"labelColor":"black","rowPadding":1,"cornerRadius":0}
}
}
